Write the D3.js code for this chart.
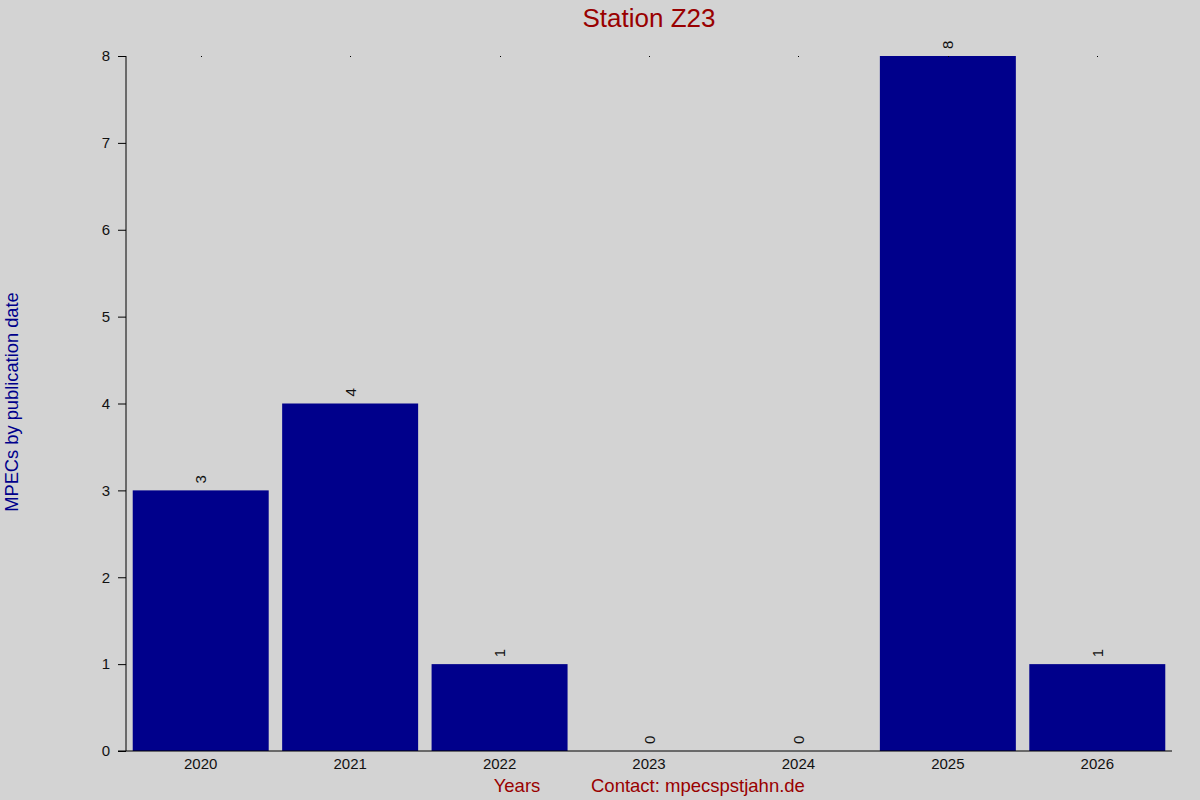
<!DOCTYPE html>
<html><head><meta charset="utf-8">
<script src="https://cdn.jsdelivr.net/npm/d3@7"></script>
<style>
html,body{margin:0;padding:0;background:#d3d3d3;}
svg{display:block;font-family:"Liberation Sans",Arial,sans-serif;}
</style></head>
<body><svg id="chart" width="1200" height="800"></svg>
<script>
const years = ["2020","2021","2022","2023","2024","2025","2026"];
const counts = [3,4,1,0,0,8,1];
const yTicks = [0,1,2,3,4,5,6,7,8];
const titleText = "Station Z23";
const yLabel = "MPECs by publication date";
const xLabel = "Years";
const contact = "Contact: mpecspstjahn.de";

(function(){
const svg = d3.select("#chart");
svg.append("rect").attr("width",1200).attr("height",800).attr("fill","#d3d3d3");

const pLeft = 126, pRight = 1172, pTop = 56, pBottom = 751;
const x = d3.scaleBand().domain(years).range([pLeft,pRight]).paddingInner(0.09).paddingOuter(0.045);
const y = d3.scaleLinear().domain([0,8]).range([pBottom,pTop]);

// bars
svg.selectAll("rect.bar").data(years).enter().append("rect")
  .attr("class","bar")
  .attr("x",d=>x(d)).attr("width",x.bandwidth())
  .attr("y",(d,i)=>y(counts[i])).attr("height",(d,i)=>y(0)-y(counts[i]))
  .attr("fill","#00008b");

// top dots
svg.selectAll("rect.dot").data(years).enter().append("rect")
  .attr("class","dot")
  .attr("x",d=>Math.round(x(d)+x.bandwidth()/2)).attr("y",y(8)).attr("width",1).attr("height",1)
  .attr("fill","#000");

// value labels
svg.selectAll("text.val").data(years).enter().append("text")
  .attr("class","val")
  .attr("transform",(d,i)=>`translate(${x(d)+x.bandwidth()/2+5.5},${y(counts[i])-7}) rotate(-90)`)
  .attr("font-size",15).attr("fill","#111").text((d,i)=>counts[i]);

// y axis
const yAxis = d3.axisLeft(y).tickValues(yTicks).tickSize(8).tickPadding(8).tickFormat(d3.format("d"));
const gy = svg.append("g").attr("transform",`translate(${pLeft},0)`).call(yAxis);
gy.select(".domain").attr("d",`M0,${pTop}V${pBottom}`).attr("stroke","#000");
gy.selectAll("text").attr("font-size",15).attr("fill","#111").attr("font-family","Liberation Sans, Arial, sans-serif");

// x axis
const xAxis = d3.axisBottom(x).tickSize(0).tickPadding(7);
const gx = svg.append("g").attr("transform",`translate(0,${pBottom})`).call(xAxis);
gx.select(".domain").attr("d",`M${pLeft-8},0H${pRight}`).attr("stroke","#000");
gx.selectAll("text").attr("font-size",15).attr("fill","#111").attr("font-family","Liberation Sans, Arial, sans-serif");

// title
svg.append("text").attr("x",649).attr("y",27).attr("text-anchor","middle")
  .attr("font-size",26).attr("fill","#990000").text(titleText);

// y label
svg.append("text").attr("transform","translate(18,402) rotate(-90)").attr("text-anchor","middle")
  .attr("font-size",18.3).attr("fill","#00008b").text(yLabel);

// x label + contact
svg.append("text").attr("x",517).attr("y",792).attr("text-anchor","middle")
  .attr("font-size",18.5).attr("fill","#990000").text(xLabel);
svg.append("text").attr("x",591).attr("y",792)
  .attr("font-size",18.5).attr("fill","#990000").text(contact);
})();
</script></body></html>
